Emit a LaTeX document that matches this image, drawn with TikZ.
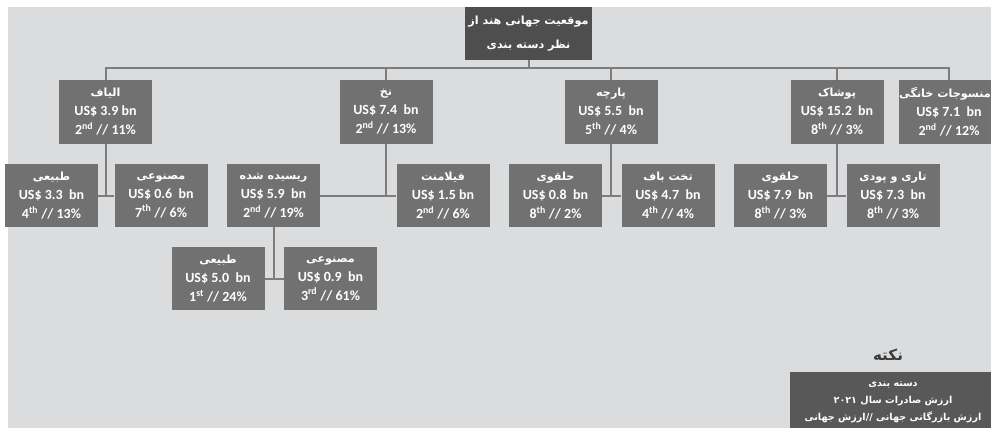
\documentclass[tikz,border=0pt]{standalone}
\usepackage{fontspec}
\setmainfont{Carlito}
\TeXXeTstate=1
\newfontfamily\fafont[Script=Arabic,Scale=0.8]{DejaVu Sans}
\newcommand{\fa}[1]{{\fafont\beginR #1\endR}}
\definecolor{bg}{HTML}{DBDCDD}
\definecolor{boxgray}{HTML}{717171}
\definecolor{topgray}{HTML}{4E4E4E}
\definecolor{keygray}{HTML}{585858}
\definecolor{linegray}{HTML}{7D7D7D}
\definecolor{keytext}{HTML}{3A3A3A}

\begin{document}
\begin{tikzpicture}
  [x=1pt,y=-1pt,
   every node/.style={text=white,align=center,inner sep=0pt,
     font=\bfseries\fontsize{14}{19}\selectfont},
   box/.style={fill=boxgray,minimum width=93pt,minimum height=63pt},
   line/.style={draw=linegray,line width=2pt}]
\fill[white] (0,0) rectangle (991,428);
\fill[bg] (8,7) rectangle (991,428);
\useasboundingbox (0,0) rectangle (991,428);

% top
\node (n0)[box,fill=topgray,minimum width=127pt,minimum height=53pt,
  font=\bfseries\fontsize{14}{24}\selectfont] at (528.5,33.5)
  {\fa{موقعیت جهانی هند از}\\\fa{نظر دسته بندی}};

% level 1
\node (n1)[box] at (105.5,112) {\fa{الیاف}\\US\$ 3.9 bn\\2\textsuperscript{nd} // 11\%};
\node (n2)[box] at (386,112) {\fa{نخ}\\US\$ 7.4\ \ bn\\2\textsuperscript{nd} // 13\%};
\node (n3)[box] at (611,112) {\fa{پارچه}\\US\$ 5.5\ \ bn\\5\textsuperscript{th} // 4\%};
\node (n4)[box] at (837,112) {\fa{پوشاک}\\US\$ 15.2\ \ bn\\8\textsuperscript{th} // 3\%};
\node (n5)[box] at (949,112) {\fa{منسوجات خانگی}\hspace*{8pt}\\US\$ 7.1\ \ bn\\2\textsuperscript{nd} // 12\%};

% level 2
\node (n11)[box] at (51.5,195.5) {\fa{طبیعی}\\US\$ 3.3\ \ bn\\4\textsuperscript{th} // 13\%};
\node (n12)[box] at (161,195.5) {\fa{مصنوعی}\\US\$ 0.6\ \ bn\\7\textsuperscript{th} // 6\%};
\node (n21)[box] at (273.5,195.5) {\fa{ریسیده شده}\\US\$ 5.9\ \ bn\\2\textsuperscript{nd} // 19\%};
\node (n22)[box] at (443,195.5) {\fa{فیلامنت}\\US\$ 1.5 bn\\2\textsuperscript{nd} // 6\%};
\node (n31)[box] at (555.5,195.5) {\fa{حلقوی}\\US\$ 0.8\ \ bn\\8\textsuperscript{th} // 2\%};
\node (n32)[box] at (668,195.5) {\fa{تخت باف}\\US\$ 4.7\ \ bn\\4\textsuperscript{th} // 4\%};
\node (n41)[box] at (780.5,195.5) {\fa{حلقوی}\\US\$ 7.9\ \ bn\\8\textsuperscript{th} // 3\%};
\node (n42)[box] at (893,195.5) {\fa{تاری و پودی}\\US\$ 7.3\ \ bn\\8\textsuperscript{th} // 3\%};

% level 3
\node (n211)[box] at (218,278.5) {\fa{طبیعی}\\US\$ 5.0\ \ bn\\1\textsuperscript{st} // 24\%};
\node (n212)[box] at (330.5,278.5) {\fa{مصنوعی}\\US\$ 0.9\ \ bn\\3\textsuperscript{rd} // 61\%};

% key
\node (kt)[text=keytext,font=\bfseries\fontsize{19}{22}\selectfont] at (888,355) {\fa{نکته}};
\node (k)[box,fill=keygray,minimum width=206pt,minimum height=60pt,
  font=\bfseries\fontsize{12}{17}\selectfont] at (893,402)
  {\fa{دسته بندی}\\\fa{ارزش صادرات سال ۲۰۲۱}\\\fa{ارزش بازرگانی جهانی //ارزش جهانی}};

\coordinate (bus) at (0,68);
\draw[line] (n1.north) |- (n5.north |- bus) -- (n5.north);
\foreach \n in {n0.south,n2.north,n3.north,n4.north}
  \draw[line] (\n) -- (\n |- bus);
\foreach \from/\to in {n1/n11.east,n1/n12.west,n2/n21.east,n2/n22.west,
    n3/n31.east,n3/n32.west,n4/n41.east,n4/n42.west,
    n21/n211.east,n21/n212.west}
  \draw[line] (\from.south) |- (\to);
\end{tikzpicture}
\end{document}
